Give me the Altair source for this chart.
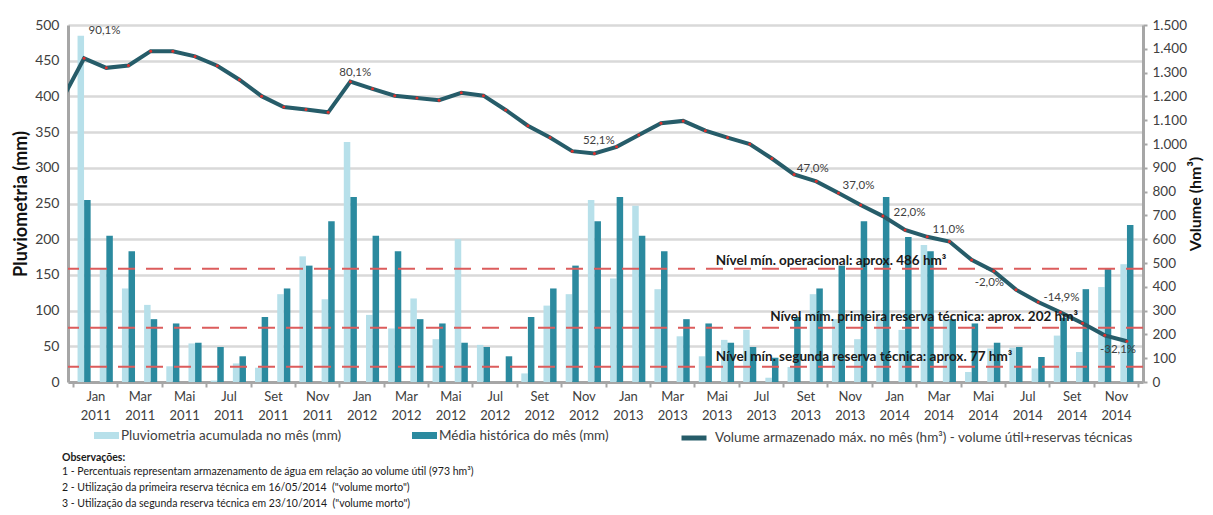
import altair as alt
import pandas as pd

# ---------------- data ----------------
meses = ["Jan", "Fev", "Mar", "Abr", "Mai", "Jun", "Jul", "Ago", "Set", "Out", "Nov", "Dez"]
anos = [2011, 2012, 2013, 2014]

pluviometria_mm = [
    485, 159, 131, 108, 22, 54, 2, 26, 20, 123, 176, 116,
    336, 94, 75, 117, 60, 200, 52, 0, 12, 107, 123, 255,
    145, 247, 130, 64, 36, 59, 73, 6, 21, 123, 88, 60,
    88, 73, 192, 87, 14, 47, 48, 19, 65, 42, 133, 165,
]
media_historica_mm = [
    255, 205, 183, 88, 82, 55, 49, 36, 91, 131, 163, 225,
    259, 205, 183, 88, 82, 55, 49, 36, 91, 131, 163, 225,
    259, 205, 183, 88, 82, 55, 49, 34, 91, 131, 163, 225,
    259, 203, 183, 88, 82, 55, 49, 35, 90, 130, 159, 220,
]
volume_hm3 = [
    1360, 1320, 1330, 1390, 1390, 1368, 1329, 1270, 1201, 1155, 1145, 1133,
    1262, 1232, 1203, 1193, 1184, 1215, 1203, 1143, 1077, 1027, 970, 960,
    988, 1038, 1087, 1097, 1056, 1027, 1000, 939, 872, 843, 794, 744,
    697, 639, 610, 590, 513, 466, 388, 336, 293, 247, 196, 171,
]
volume_dez_2010 = 1185  # point before the first month (line enters from the left edge)

pct_texto = ["90,1%", "80,1%", "52,1%", "47,0%", "37,0%", "22,0%", "11,0%", "-2,0%", "-14,9%", "-32,1%"]
pct_mes = [0.92, 12.22, 23.2, 32.84, 34.9, 37.2, 38.96, 40.8, 44.05, 46.6]
pct_nivel = [1475, 1300, 1014, 895, 824, 712, 639, 415, 354, 134]

niveis_hm3 = [476, 228, 64]
niveis_texto = [
    "Nível mín. operacional: aprox. 486 hm³",
    "Nível mím. primeira reserva técnica: aprox. 202 hm³",
    "Nível mín. segunda reserva técnica: aprox. 77 hm³",
]
niveis_texto_mes = [28.47, 30.92, 28.47]
niveis_texto_nivel = [508, 273, 105]

tick_meses = ["Jan", "Mar", "Mai", "Jul", "Set", "Nov"]

serie_pluv = "Pluviometria acumulada no mês (mm)"
serie_media = "Média histórica do mês (mm)"
serie_vol = "Volume armazenado máx. no mês (hm³) - volume útil+reservas técnicas"

obs_titulo = "Observações:"
obs_linhas = [
    "1 - Percentuais representam armazenamento de água em relação ao volume útil (973 hm³)",
    "2 - Utilização da primeira reserva técnica em 16/05/2014\u00a0\u00a0(\"volume morto\")",
    "3 - Utilização da segunda reserva técnica em 23/10/2014\u00a0\u00a0(\"volume morto\")",
]

# ---------------- tables ----------------
N = len(pluviometria_mm)
df = pd.DataFrame({
    "idx": list(range(N)),
    "mes": [f"{m} {a}" for a in anos for m in meses],
    "pluv": pluviometria_mm,
    "media": media_historica_mm,
    "vol": volume_hm3,
})
df_line = pd.DataFrame({"idx": [-1] + list(range(N)), "vol": [volume_dez_2010] + volume_hm3})
df_pct = pd.DataFrame({"lx": pct_mes, "ly": pct_nivel, "t": pct_texto})
df_niv = pd.DataFrame({"nivel": niveis_hm3})
df_nivtxt = pd.DataFrame({"lx": niveis_texto_mes, "ly": niveis_texto_nivel, "t": niveis_texto})
df_one = pd.DataFrame({"a": [0]})

# ---------------- styling ----------------
W, H = 1075, 357
step = W / N
FONT = "Lato"
AX_GRAY = "#a6a6a6"
GRID = "#d9d9d9"
TXT = "#404040"
C_LIGHT = "#b7e0ea"
C_DARK = "#2b8a9f"
C_LINE = "#265c69"
C_RED = "#dc5c5c"

tick_vals = [i - 0.5 for i in range(0, N + 1, 2)]
labels_js = "[" + ",".join(f"['{m}','{a}']" for a in anos for m in tick_meses) + "]"
label_expr = f"datum.value < {N - 1} ? {labels_js}[round((datum.value + 0.5) / 2)] : ''"

x_scale = alt.Scale(domain=[-0.5, N - 0.5], nice=False, zero=False)
x_axis = alt.Axis(
    values=tick_vals, labelExpr=label_expr, labelOffset=step, labelFlush=False,
    labelOverlap=False, labelBound=False, title=None, grid=False,
    domainColor=AX_GRAY, domainWidth=3, tickColor=AX_GRAY, tickWidth=2, tickSize=5,
    labelFontSize=13, labelColor=TXT, labelPadding=3, labelLineHeight=19, labelFont=FONT,
)


def X(field):
    return alt.X(field, type="quantitative", scale=x_scale, axis=x_axis)


pluv_scale = alt.Scale(domain=[0, 500], nice=False, zero=True)
pluv_axis = alt.Axis(
    values=list(range(0, 501, 50)), title="Pluviometria (mm)", grid=True,
    gridColor=GRID, gridWidth=2.5, domainColor=AX_GRAY, domainWidth=3, ticks=False,
    labelFontSize=14, labelColor=TXT, labelPadding=9, labelFont=FONT,
    titleFontSize=18, titleFont=FONT, titleFontWeight="bold", titleColor="#111111", titlePadding=4,
)
vol_scale = alt.Scale(domain=[0, 1500], nice=False, zero=True)
vol_axis = alt.Axis(
    orient="right", values=list(range(0, 1501, 100)),
    labelExpr="replace(format(datum.value, ','), ',', '.')",
    title="Volume (hm³)", grid=False, domainColor=AX_GRAY, domainWidth=3,
    tickColor=AX_GRAY, tickWidth=2, tickSize=4,
    labelFontSize=13.5, labelColor=TXT, labelPadding=5, labelFont=FONT,
    titleFontSize=16, titleFont=FONT, titleFontWeight="bold", titleColor="#111111",
    titleAngle=270, titleBaseline="top", titlePadding=1,
)


def YP(field):
    return alt.Y(field, type="quantitative", scale=pluv_scale, axis=pluv_axis)


def YV(field):
    return alt.Y(field, type="quantitative", scale=vol_scale, axis=vol_axis)


fill_scale = alt.Scale(domain=[serie_pluv, serie_media], range=[C_LIGHT, C_DARK])
fill_legend = alt.Legend(
    orient="none", legendX=26, legendY=398, direction="horizontal", title=None,
    symbolType="M-1,-0.28H1V0.28H-1Z", symbolSize=625, symbolStrokeWidth=0,
    labelFontSize=13.5, labelFont=FONT, labelColor=TXT, labelLimit=600,
    columnPadding=70, labelOffset=2, padding=0,
)
stroke_legend = alt.Legend(
    orient="none", legendX=611, legendY=398, direction="horizontal", title=None,
    symbolType="stroke", symbolSize=625, symbolStrokeWidth=5,
    labelFontSize=13.5, labelFont=FONT, labelColor=TXT, labelLimit=800,
    labelOffset=6, padding=0,
)

# ---------------- layers ----------------
light = alt.Chart(df).transform_calculate(serie=f"'{serie_pluv}'").mark_bar(
    width=6.5, xOffset=-3.3
).encode(
    x=X("idx"), y=YP("pluv"),
    fill=alt.Fill("serie:N", scale=fill_scale, legend=fill_legend),
)
dark = alt.Chart(df).transform_calculate(serie=f"'{serie_media}'").mark_bar(
    width=6.5, xOffset=3.3
).encode(
    x=X("idx"), y=YP("media"),
    fill=alt.Fill("serie:N", scale=fill_scale, legend=fill_legend),
)
bars = alt.layer(light, dark)

rules = alt.Chart(df_niv).mark_rule(
    color=C_RED, strokeWidth=2, strokeDash=[17, 11]
).encode(y=YV("nivel"))

line = alt.Chart(df_line).transform_calculate(serie=f"'{serie_vol}'").mark_line(
    clip=True, strokeWidth=4, interpolate="linear"
).encode(
    x=X("idx"), y=YV("vol"),
    stroke=alt.Stroke("serie:N", scale=alt.Scale(domain=[serie_vol], range=[C_LINE]), legend=stroke_legend),
)
pts = alt.Chart(df).mark_circle(size=9, color="#e0302c", opacity=1).encode(x=X("idx"), y=YV("vol"))

pct = alt.Chart(df_pct).mark_text(
    fontSize=11.5, font=FONT, color=TXT, align="center", baseline="middle"
).encode(x=X("lx"), y=YV("ly"), text="t:N")

nivtxt = alt.Chart(df_nivtxt).mark_text(
    fontSize=13.5, font=FONT, fontWeight="bold", color="#1a1a1a", align="left", baseline="middle"
).encode(x=X("lx"), y=YV("ly"), text="t:N")

obs_t = alt.Chart(df_one).mark_text(
    fontSize=10.5, font=FONT, fontWeight="bold", color="#1a1a1a", align="left", baseline="middle"
).encode(x=alt.value(-6), y=alt.value(433), text=alt.value(obs_titulo))
obs_l = alt.Chart(df_one).mark_text(
    fontSize=10.5, font=FONT, color="#1a1a1a", align="left", baseline="top", lineHeight=16
).encode(x=alt.value(-6), y=alt.value(442), text=alt.value(obs_linhas))

vol_layer = alt.layer(rules, line, pts, pct, nivtxt, obs_t, obs_l)

chart = alt.layer(bars, vol_layer).resolve_scale(y="independent").properties(
    width=W, height=H,
    autosize=alt.AutoSizeParams(type="none"),
    padding={"left": 60, "top": 17, "right": 62, "bottom": 130},
    background="white",
).configure_view(stroke=None)

chart.save("out.html", embed_options={"renderer": "svg", "actions": False})
